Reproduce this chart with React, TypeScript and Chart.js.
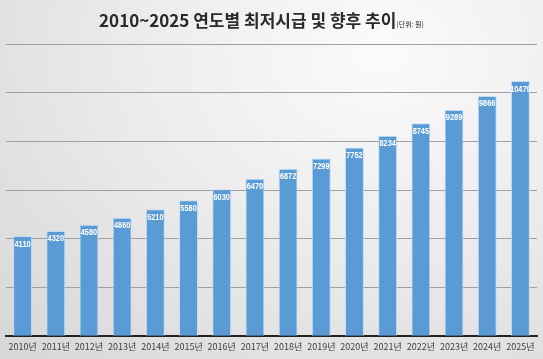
import { useEffect, useRef } from 'react';
import { Chart, registerables } from 'chart.js';

Chart.register(...registerables);

const years = ['2010년', '2011년', '2012년', '2013년', '2014년', '2015년', '2016년', '2017년', '2018년', '2019년', '2020년', '2021년', '2022년', '2023년', '2024년', '2025년'];
const wages = [4110, 4320, 4580, 4860, 5210, 5580, 6030, 6470, 6872, 7299, 7752, 8234, 8745, 9289, 9866, 10479];
const yMin = 0;
const yMax = 12000;
const yStep = 2000;
const titleMain = '2010~2025 연도별 최저시급 및 향후 추이';
const titleUnit = '(단위: 원)';

const barLabels = {
  id: 'barLabels',
  afterDatasetsDraw(chart: any) {
    const ctx = chart.ctx;
    const meta = chart.getDatasetMeta(0);
    ctx.save();
    ctx.fillStyle = '#ffffff';
    ctx.font = 'bold 9px "Liberation Sans", "Noto Sans", sans-serif';
    ctx.textAlign = 'center';
    ctx.textBaseline = 'middle';
    meta.data.forEach((bar: any, i: number) => {
      const s = String(wages[i]);
      ctx.fillText(s, bar.x, bar.y + 8, s.length * 4.1);
    });
    ctx.restore();
  },
};

export default function App() {
  const ref = useRef<HTMLCanvasElement | null>(null);
  useEffect(() => {
    if (!ref.current) return;
    const chart = new Chart(ref.current, {
      type: 'bar',
      data: {
        labels: years,
        datasets: [
          {
            data: wages,
            backgroundColor: '#5b9bd5',
            borderColor: 'rgba(190,220,245,0.9)',
            borderWidth: 1,
            categoryPercentage: 1,
            barPercentage: 0.57,
          },
        ],
      },
      options: {
        animation: false,
        responsive: false,
        maintainAspectRatio: false,
        layout: { padding: { top: 44, left: 6, right: 6, bottom: 2 } },
        plugins: { legend: { display: false }, tooltip: { enabled: false }, title: { display: false } },
        scales: {
          x: {
            grid: { display: false, drawTicks: false },
            border: { display: true, color: '#222222', width: 2 },
            ticks: {
              color: '#404040',
              font: { size: 9, family: '"Noto Sans CJK KR", "Noto Sans", sans-serif' },
              padding: 5,
              maxRotation: 0,
              autoSkip: false,
            },
          },
          y: {
            min: yMin,
            max: yMax,
            ticks: { display: false, stepSize: yStep },
            grid: { color: '#a0a0a0', lineWidth: 1, drawTicks: false },
            border: { display: false },
          },
        },
      },
      plugins: [barLabels],
    });
    return () => chart.destroy();
  }, []);

  return (
    <div
      style={{
        position: 'fixed',
        left: 0,
        top: 0,
        width: 543,
        height: 359,
        background: 'radial-gradient(ellipse at 70% 15%, #fbfbfb 0%, #ececec 45%, #d6d6d6 100%)',
        overflow: 'hidden',
      }}
    >
      <div
        style={{
          position: 'absolute',
          left: -10,
          top: 8,
          width: 543,
          textAlign: 'center',
          fontFamily: '"Noto Sans CJK KR", sans-serif',
          color: '#2a2a2a',
          whiteSpace: 'nowrap',
          lineHeight: '24px',
        }}
      >
        <span style={{ fontSize: 17, fontWeight: 700 }}>{titleMain}</span>
        <span style={{ fontSize: 7 }}>{titleUnit}</span>
      </div>
      <canvas ref={ref} width={543} height={359} style={{ position: 'absolute', left: 0, top: 0, width: 543, height: 359 }} />
    </div>
  );
}
